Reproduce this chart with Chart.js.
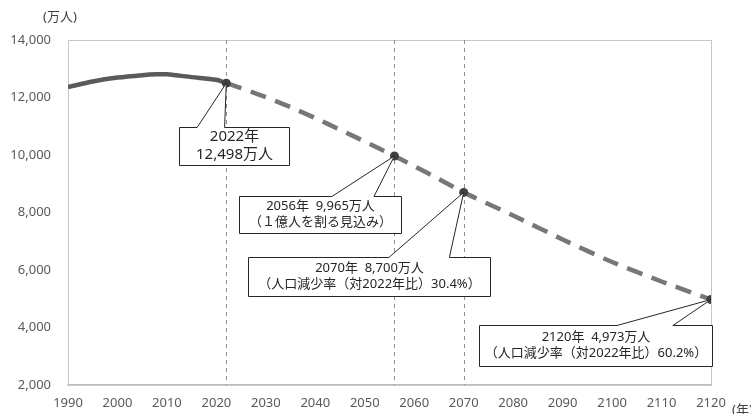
<!DOCTYPE html>
<html>
<head>
<meta charset="utf-8">
<script src="https://cdn.jsdelivr.net/npm/chart.js@4/dist/chart.umd.min.js"></script>
<style>
  html, body { margin: 0; padding: 0; background: #fff; }
  #wrap { width: 751px; height: 414px; }
</style>
</head>
<body>
<div id="wrap"><canvas id="pop-chart" width="751" height="414"></canvas></div>
<script>
// total population (万人), estimates up to 2022
const actualYears = [1990, 1995, 2000, 2005, 2008, 2010, 2015, 2020, 2022];
const actualPop = [12361, 12557, 12693, 12777, 12808, 12806, 12709, 12615, 12498];

// projection (medium variant) 2022 -> 2120
const projYears = [2022, 2025, 2030, 2035, 2040, 2045, 2050, 2055, 2056, 2060, 2065, 2070, 2080, 2090, 2100, 2110, 2120];
const projPop = [12498, 12326, 12012, 11664, 11284, 10880, 10469, 10051, 9965, 9615, 9159, 8700, 7895, 7063, 6278, 5600, 4973];

// highlighted years
const markYears = [2022, 2056, 2070, 2120];
const markPop = [12498, 9965, 8700, 4973];
const guideYears = [2022, 2056, 2070];

const callouts = [
  { year: 2022, value: 12498, lines: ['2022年', '12,498万人'], cx: 2023.5, cy: 10313, w: 110, h: 38, b1: 0.16, b2: 0.41, size: 15 },
  { year: 2056, value: 9965, lines: ['2056年  9,965万人', '（１億人を割る見込み）'], cx: 2041.0, cy: 7930, w: 162, h: 37, b1: 0.57, b2: 0.83, size: 13 },
  { year: 2070, value: 8700, lines: ['2070年  8,700万人', '（人口減少率（対2022年比）30.4%）'], cx: 2050.8, cy: 5774, w: 242, h: 39, b1: 0.58, b2: 0.83, size: 13 },
  { year: 2120, value: 4973, lines: ['2120年  4,973万人', '（人口減少率（対2022年比）60.2%）'], cx: 2096.6, cy: 3374, w: 233, h: 41, b1: 0.59, b2: 0.83, size: 13 }
];

const FONT = "'Noto Sans', 'Noto Sans CJK JP', sans-serif";

const toXY = (xs, ys) => xs.map((x, i) => ({ x: x, y: ys[i] }));

// frame, guide lines, callouts and unit labels
const extras = {
  id: 'extras',
  beforeDatasetsDraw(chart) {
    const { ctx, chartArea: a, scales: { x, y } } = chart;
    ctx.save();
    ctx.strokeStyle = '#c8c8c8';
    ctx.lineWidth = 1;
    ctx.strokeRect(a.left + 0.5, a.top + 0.5, a.right - a.left, a.bottom - a.top);
    ctx.strokeStyle = '#8f8f8f';
    ctx.setLineDash([4, 4]);
    guideYears.forEach(yr => {
      const px = Math.round(x.getPixelForValue(yr)) + 0.5;
      ctx.beginPath();
      ctx.moveTo(px, a.top);
      ctx.lineTo(px, a.bottom);
      ctx.stroke();
    });
    ctx.restore();
  },
  afterDatasetsDraw(chart) {
    const { ctx, chartArea: a, scales: { x, y } } = chart;
    ctx.save();
    callouts.forEach(c => {
      const cx = x.getPixelForValue(c.cx), cy = y.getPixelForValue(c.cy);
      const l = Math.round(cx - c.w / 2) + 0.5, t = Math.round(cy - c.h / 2) + 0.5;
      const r = l + c.w, b = t + c.h;
      const px = x.getPixelForValue(c.year), py = y.getPixelForValue(c.value);
      ctx.beginPath();
      ctx.moveTo(l, t);
      ctx.lineTo(l + c.w * c.b1, t);
      ctx.lineTo(px, py);
      ctx.lineTo(l + c.w * c.b2, t);
      ctx.lineTo(r, t);
      ctx.lineTo(r, b);
      ctx.lineTo(l, b);
      ctx.closePath();
      ctx.fillStyle = '#fff';
      ctx.fill();
      ctx.strokeStyle = '#262626';
      ctx.lineWidth = 1;
      ctx.stroke();
      ctx.fillStyle = '#262626';
      ctx.font = c.size + 'px ' + FONT;
      ctx.textAlign = 'center';
      ctx.textBaseline = 'middle';
      const lh = c.size + 3;
      c.lines.forEach((s, i) => {
        ctx.fillText(s, (l + r) / 2, cy + (i - (c.lines.length - 1) / 2) * lh);
      });
    });
    // unit labels
    ctx.fillStyle = '#404040';
    ctx.font = '13px ' + FONT;
    ctx.textBaseline = 'middle';
    ctx.textAlign = 'center';
    ctx.fillText('(万人)', a.left - 8, 17);
    ctx.textAlign = 'left';
    ctx.fillText('(年)', a.right + 21, 410);
    ctx.restore();
  }
};

new Chart(document.getElementById('pop-chart'), {
  type: 'line',
  data: {
    datasets: [
      {
        label: 'marks',
        data: toXY(markYears, markPop),
        showLine: false,
        pointRadius: 4.5,
        pointBackgroundColor: '#404040',
        pointBorderWidth: 0,
        order: 0
      },
      {
        label: 'actual',
        data: toXY(actualYears, actualPop),
        borderColor: '#5a5a5a',
        borderWidth: 4.5,
        pointRadius: 0,
        tension: 0.3,
        order: 1
      },
      {
        label: 'projection',
        data: toXY(projYears, projPop),
        borderColor: '#777777',
        borderWidth: 4.5,
        borderDash: [16, 10],
        pointRadius: 0,
        tension: 0.2,
        order: 2
      }
    ]
  },
  options: {
    responsive: false,
    animation: false,
    devicePixelRatio: 1,
    layout: { padding: { top: 40, right: 40, left: 0, bottom: 0 } },
    plugins: { legend: { display: false }, tooltip: { enabled: false }, title: { display: false } },
    scales: {
      x: {
        type: 'linear',
        min: 1990, max: 2120,
        grid: { display: false, drawTicks: false },
        border: { display: true, color: '#bfbfbf', width: 1.5 },
        ticks: {
          stepSize: 10, padding: 10, color: '#595959',
          font: { family: FONT, size: 13 },
          callback: v => String(v)
        },
        afterFit: s => { s.height = 29; }
      },
      y: {
        min: 2000, max: 14000,
        grid: { display: false, drawTicks: false },
        border: { display: true, color: '#bfbfbf', width: 1 },
        ticks: {
          stepSize: 2000, padding: 17, color: '#595959',
          font: { family: FONT, size: 13 },
          callback: v => v.toLocaleString('en-US')
        },
        afterFit: s => { s.width = 68; }
      }
    }
  },
  plugins: [extras]
});
</script>
</body>
</html>
